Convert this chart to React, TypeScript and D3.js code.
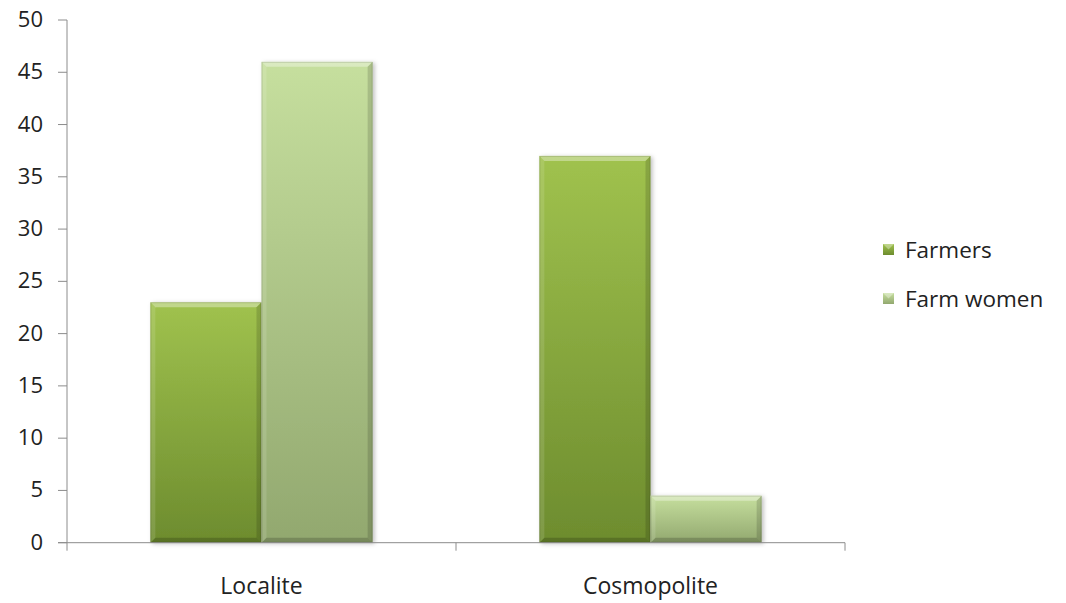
import React from "react";
import * as d3 from "d3";

const categories = ["Localite", "Cosmopolite"];
const seriesNames = ["Farmers", "Farm women"];
const farmers = [23, 37];
const farmWomen = [46, 4.5];
const yTicks = [0, 5, 10, 15, 20, 25, 30, 35, 40, 45, 50];

const W = 1066;
const H = 603;
const margin = { left: 67, right: 221, top: 20, bottom: 60 };

const palettes = [
  { top: "#a0c24e", bottom: "#6d8c2e", id: "gFarmers" },
  { top: "#c6df9e", bottom: "#92a86f", id: "gWomen" },
];

export default function App() {
  const x0 = d3
    .scaleBand<string>()
    .domain(categories)
    .range([margin.left, W - margin.right])
    .paddingInner(0)
    .paddingOuter(0);
  const x1 = d3
    .scaleBand<number>()
    .domain([0, 1])
    .range([0, x0.bandwidth()])
    .paddingInner(0)
    .paddingOuter(0.75);
  const y = d3
    .scaleLinear()
    .domain([0, 50])
    .range([H - margin.bottom - 0.3, margin.top]);

  const series = [farmers, farmWomen];
  const font = "'Open Sans', Lato, sans-serif";
  const b = 5;

  const bars: React.ReactNode[] = [];
  categories.forEach((c, ci) => {
    series.forEach((vals, si) => {
      const xa = (x0(c) as number) + (x1(si) as number);
      const w = x1.bandwidth();
      const yt = y(vals[ci]);
      const yb = y(0);
      const xb = xa + w;
      const p = palettes[si];
      bars.push(
        <g key={`${ci}-${si}`}>
          <rect x={xa} y={yt} width={w} height={yb - yt} fill={`url(#${p.id})`} filter="url(#shadow)" />
          {/* bevel faces */}
          <polygon points={`${xa},${yt} ${xb},${yt} ${xb - b},${yt + b} ${xa + b},${yt + b}`} fill="#ffffff" opacity={0.35} />
          <polygon points={`${xa},${yt} ${xa + b},${yt + b} ${xa + b},${yb - b} ${xa},${yb}`} fill="#ffffff" opacity={0.12} />
          <polygon points={`${xb},${yt} ${xb},${yb} ${xb - b},${yb - b} ${xb - b},${yt + b}`} fill="#000000" opacity={0.14} />
          <polygon points={`${xa},${yb} ${xa + b},${yb - b} ${xb - b},${yb - b} ${xb},${yb}`} fill="#000000" opacity={0.18} />
          <rect x={xa + 0.5} y={yt + 0.5} width={w - 1} height={yb - yt - 1} fill="none" stroke="#000" strokeOpacity={0.12} />
        </g>
      );
    });
  });

  return (
    <svg width={W} height={H} style={{ position: "absolute", left: 0, top: 0, background: "#fff" }}>
      <defs>
        {palettes.map((p) => (
          <linearGradient key={p.id} id={p.id} x1="0" y1="0" x2="0" y2="1">
            <stop offset="0" stopColor={p.top} />
            <stop offset="1" stopColor={p.bottom} />
          </linearGradient>
        ))}
        <filter id="shadow" x="-10%" y="-10%" width="130%" height="120%">
          <feDropShadow dx="2" dy="1" stdDeviation="2" floodColor="#000" floodOpacity="0.25" />
        </filter>
      </defs>

      {bars}

      {/* y axis */}
      <line x1={margin.left} x2={margin.left} y1={y(50)} y2={y(0)} stroke="#8c8c8c" strokeWidth={1} />
      {yTicks.map((t) => (
        <g key={t}>
          <line x1={margin.left - 9} x2={margin.left} y1={y(t)} y2={y(t)} stroke="#8c8c8c" />
          <text x={43} y={y(t) + 7} textAnchor="end" fontFamily={font} fontSize={22} fill="#222">
            {t}
          </text>
        </g>
      ))}

      {/* x axis */}
      <line x1={margin.left - 9} x2={W - margin.right} y1={y(0)} y2={y(0)} stroke="#8c8c8c" />
      {[...categories.map((c) => x0(c) as number), W - margin.right].map((xv, i) => (
        <line key={i} x1={xv} x2={xv} y1={y(0)} y2={y(0) + 8} stroke="#8c8c8c" />
      ))}
      {categories.map((c) => (
        <text key={c} x={(x0(c) as number) + x0.bandwidth() / 2} y={594} textAnchor="middle" fontFamily={font} fontSize={23} fill="#222">
          {c}
        </text>
      ))}

      {/* legend */}
      {seriesNames.map((s, i) => {
        const ly = 250 + i * 49;
        const p = palettes[i];
        return (
          <g key={s}>
            <rect x={883} y={ly - 6} width={11} height={11} fill={`url(#${p.id})`} />
            <polygon points={`${883},${ly - 6} ${894},${ly - 6} ${888.5},${ly - 0.5}`} fill="#fff" opacity={0.35} />
            <text x={905} y={ly + 8} fontFamily={font} fontSize={22.5} fill="#222">
              {s}
            </text>
          </g>
        );
      })}
    </svg>
  );
}
